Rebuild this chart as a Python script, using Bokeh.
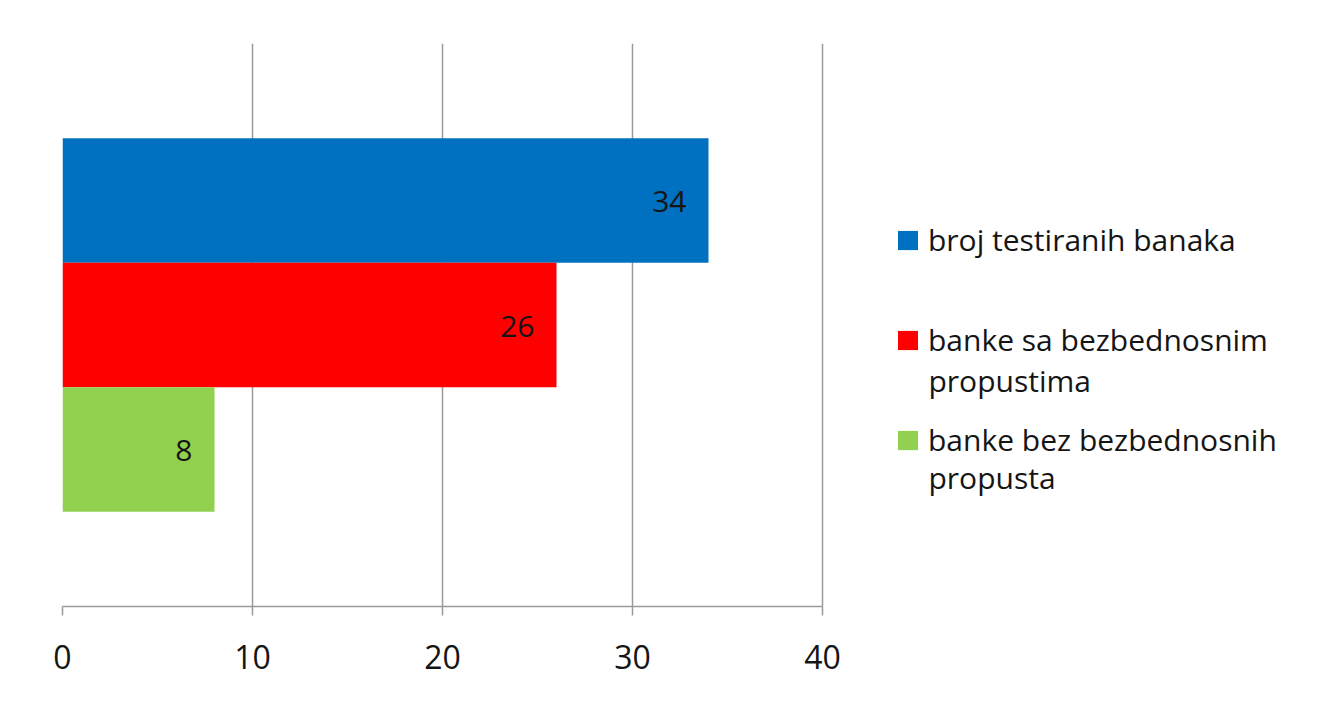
from bokeh.plotting import figure
from bokeh.models import Range1d, Legend, LegendItem, FixedTicker, ColumnDataSource, Label
from bokeh.embed import file_html
from bokeh.resources import INLINE
from bokeh.core.properties import value

series_first = ["broj testiranih banaka",
                "banke sa bezbednosnim",
                "banke bez bezbednosnih"]
series_second = ["", "propustima", "propusta"]
values = [34, 26, 8]
colors = ["#0070C0", "#FF0000", "#92D050"]
positions = [1, 0, -1]
x_ticks = [0, 10, 20, 30, 40]

FONT = "Open Sans"
TXT = "#151515"

src = ColumnDataSource(dict(y=positions, v=values, c=colors,
                            t=[str(v) for v in values]))

p = figure(frame_width=1237, frame_height=563,
           min_border_left=62, min_border_right=10,
           min_border_top=43, min_border_bottom=91,
           output_backend="svg", toolbar_location=None,
           x_range=Range1d(0, 1237 / 19), y_range=Range1d(-2.26, 2.26))
p.outline_line_color = None
p.background_fill_color = "white"
p.border_fill_color = "white"

r = p.hbar(y="y", right="v", left=0, height=1, fill_color="c",
           line_color=None, source=src)

p.text(x="v", y="y", text="t", source=src, text_align="right",
       text_baseline="middle", x_offset=-22, y_offset=1,
       text_font=value(FONT), text_font_size="30px", text_color=TXT)

p.yaxis.visible = False
p.ygrid.visible = False

ax = p.xaxis[0]
ax.ticker = FixedTicker(ticks=x_ticks)
ax.bounds = (0, 40)
ax.axis_line_color = "#9a9a9a"
ax.axis_line_width = 1.5
ax.major_tick_line_color = "#9a9a9a"
ax.major_tick_line_width = 1.5
ax.major_tick_out = 9
ax.major_tick_in = 0
ax.minor_tick_line_color = None
ax.major_label_standoff = 29
ax.major_label_text_font = FONT
ax.major_label_text_font_size = "32px"
ax.major_label_text_color = TXT

g = p.xgrid[0]
g.ticker = FixedTicker(ticks=x_ticks)
g.grid_line_color = "#9a9a9a"
g.grid_line_width = 1.5

items = [LegendItem(label=series_first[i], renderers=[r], index=i) for i in range(3)]
leg = Legend(items=items, location=(833, 146), orientation="vertical",
             glyph_width=25, glyph_height=24, label_standoff=8,
             label_height=40,
             label_text_font=FONT, label_text_font_size="30px",
             label_text_color=TXT, spacing=59, padding=0, margin=0,
             border_line_color=None, background_fill_alpha=0)
p.add_layout(leg, "center")

for txt, sy in zip(series_second[1:], [226, 129]):
    p.add_layout(Label(x=866, y=sy, x_units="screen", y_units="screen",
                       text=txt, text_font=FONT, text_font_size="30px",
                       text_color=TXT, text_baseline="middle",
                       text_align="left"))

open("out.html", "w").write(file_html(p, INLINE))
